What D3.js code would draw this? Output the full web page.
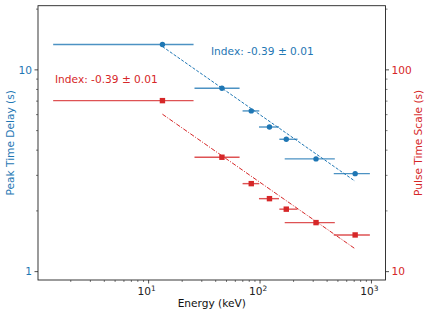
<!DOCTYPE html>
<html>
<head>
<meta charset="utf-8">
<script src="https://cdn.jsdelivr.net/npm/d3@7"></script>
<style>
  body { margin: 0; background: #fff; }
  svg text { font-family: "DejaVu Sans", sans-serif; }
</style>
</head>
<body>
<div id="chart"></div>
<script>
(() => {
  // energy bins (keV)
  const energy = [13.3, 45.5, 83.4, 121.5, 172, 318, 714]
  const energyLo = [1.39, 25.8, 69.7, 97.8, 149, 166.5, 459]
  const energyHi = [25.3, 65.5, 98.4, 148, 217, 469, 968]
  // left axis: peak time delay (s)
  const peakDelay = [13.35, 8.11, 6.26, 5.21, 4.53, 3.62, 3.06]
  // right axis: pulse time scale (s)
  const pulseScale = [70.4, 36.9, 27.3, 23.0, 20.4, 17.5, 15.2]
  // power-law fit lines (end points)
  const fitEnergy = [13.3, 711]
  const peakFit = [13.05, 2.81]
  const pulseFit = [60.3, 13.0]
  const peakLabel = 'Index: -0.39 ± 0.01'
  const pulseLabel = 'Index: -0.39 ± 0.01'

  const blue = '#1f77b4'
  const red = '#d62728'
  const width = 430
  const height = 316
  const m = {left: 38, top: 5.7, right: 44.5, bottom: 36}
  const fs = 10.6

  const svg = d3.select('#chart')
    .append('svg')
    .attr('width', width)
    .attr('height', height)

  const x = d3.scaleLog().domain([1.016, 1337]).range([m.left, width - m.right])
  const yL = d3.scaleLog().domain([0.909, 20.8]).range([height - m.bottom, m.top])
  const yR = d3.scaleLog().domain([9.09, 208]).range([height - m.bottom, m.top])

  const minorTicks = (scale) => {
    const [a, b] = scale.domain()
    const out = []
    for (let e = Math.floor(Math.log10(a)); e <= Math.ceil(Math.log10(b)); e++) {
      for (let k = 1; k < 10; k++) {
        const v = k * Math.pow(10, e)
        if (v >= a && v <= b) out.push({v, major: k === 1})
      }
    }
    return out
  }

  const g = svg.append('g')

  // x axis ticks
  const yBottom = height - m.bottom
  minorTicks(x).forEach(t => {
    g.append('line')
      .attr('x1', x(t.v)).attr('x2', x(t.v))
      .attr('y1', yBottom).attr('y2', yBottom + (t.major ? 3.5 : 2))
      .attr('stroke', '#222').attr('stroke-width', t.major ? 0.8 : 0.6)
    if (t.major) {
      const txt = g.append('text')
        .attr('x', x(t.v) - 2)
        .attr('y', yBottom + 15)
        .attr('text-anchor', 'middle')
        .attr('font-size', fs)
        .attr('fill', '#222')
      txt.append('tspan').text('10')
      txt.append('tspan').attr('dy', -4).attr('font-size', fs * 0.7)
        .text(Math.round(Math.log10(t.v)))
    }
  })

  // left axis ticks
  minorTicks(yL).forEach(t => {
    g.append('line')
      .attr('x1', m.left).attr('x2', m.left - (t.major ? 3.5 : 2))
      .attr('y1', yL(t.v)).attr('y2', yL(t.v))
      .attr('stroke', '#222').attr('stroke-width', t.major ? 0.8 : 0.6)
    if (t.major) {
      g.append('text')
        .attr('x', m.left - 6)
        .attr('y', yL(t.v))
        .attr('dy', '0.36em')
        .attr('text-anchor', 'end')
        .attr('font-size', fs)
        .attr('fill', blue)
        .text(d3.format('d')(t.v))
    }
  })

  // right axis ticks
  const xRight = width - m.right
  minorTicks(yR).forEach(t => {
    g.append('line')
      .attr('x1', xRight).attr('x2', xRight + (t.major ? 3.5 : 2))
      .attr('y1', yR(t.v)).attr('y2', yR(t.v))
      .attr('stroke', '#222').attr('stroke-width', t.major ? 0.8 : 0.6)
    if (t.major) {
      g.append('text')
        .attr('x', xRight + 6)
        .attr('y', yR(t.v))
        .attr('dy', '0.36em')
        .attr('text-anchor', 'start')
        .attr('font-size', fs)
        .attr('fill', red)
        .text(d3.format('d')(t.v))
    }
  })

  // frame
  g.append('rect')
    .attr('x', m.left).attr('y', m.top)
    .attr('width', width - m.left - m.right)
    .attr('height', height - m.top - m.bottom)
    .attr('fill', 'none').attr('stroke', '#222').attr('stroke-width', 0.9)

  // axis titles
  svg.append('text')
    .attr('x', (m.left + xRight) / 2)
    .attr('y', 307)
    .attr('text-anchor', 'middle')
    .attr('font-size', fs)
    .attr('fill', '#111')
    .text('Energy (keV)')

  svg.append('text')
    .attr('transform', `translate(14, ${(m.top + yBottom) / 2}) rotate(-90)`)
    .attr('text-anchor', 'middle')
    .attr('font-size', fs)
    .attr('fill', blue)
    .text('Peak Time Delay (s)')

  svg.append('text')
    .attr('transform', `translate(422, ${(m.top + yBottom) / 2}) rotate(-90)`)
    .attr('text-anchor', 'middle')
    .attr('font-size', fs)
    .attr('fill', red)
    .text('Pulse Time Scale (s)')

  // fit lines
  const fitLine = (ys, yScale) => d3.line()
    .x((d, i) => x(fitEnergy[i]))
    .y((d, i) => yScale(ys[i]))(ys)

  svg.append('path')
    .attr('d', fitLine(peakFit, yL))
    .attr('fill', 'none').attr('stroke', blue).attr('stroke-width', 1)
    .attr('stroke-dasharray', '3,1.6')

  svg.append('path')
    .attr('d', fitLine(pulseFit, yR))
    .attr('fill', 'none').attr('stroke', red).attr('stroke-width', 1)
    .attr('stroke-dasharray', '4.5,1.5,1,1.5')

  // error bars + markers
  const drawSeries = (vals, yScale, color, shape) => {
    const s = svg.append('g')
    s.selectAll('line')
      .data(vals)
      .enter()
      .append('line')
      .attr('x1', (d, i) => x(energyLo[i]))
      .attr('x2', (d, i) => x(energyHi[i]))
      .attr('y1', d => yScale(d))
      .attr('y2', d => yScale(d))
      .attr('stroke', color)
      .attr('stroke-opacity', 0.8)
      .attr('stroke-width', 1.4)
    if (shape === 'circle') {
      s.selectAll('circle')
        .data(vals)
        .enter()
        .append('circle')
        .attr('cx', (d, i) => x(energy[i]))
        .attr('cy', d => yScale(d))
        .attr('r', 2.7)
        .attr('fill', color)
    } else {
      s.selectAll('rect')
        .data(vals)
        .enter()
        .append('rect')
        .attr('x', (d, i) => x(energy[i]) - 2.7)
        .attr('y', d => yScale(d) - 2.7)
        .attr('width', 5.4)
        .attr('height', 5.4)
        .attr('fill', color)
    }
  }

  drawSeries(peakDelay, yL, blue, 'circle')
  drawSeries(pulseScale, yR, red, 'square')

  // annotations
  svg.append('text')
    .attr('x', 211).attr('y', 55)
    .attr('font-size', fs)
    .attr('fill', blue)
    .text(peakLabel)

  svg.append('text')
    .attr('x', 55).attr('y', 83)
    .attr('font-size', fs)
    .attr('fill', red)
    .text(pulseLabel)
})()
</script>
</body>
</html>
